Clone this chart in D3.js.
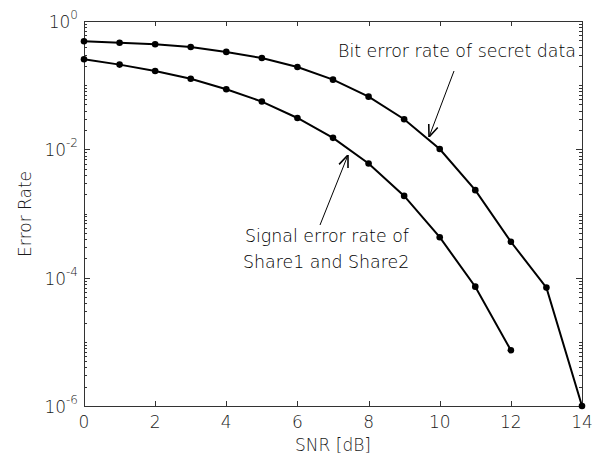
<!DOCTYPE html>
<html>
<head>
<meta charset="utf-8">
<script src="https://cdn.jsdelivr.net/npm/d3@7"></script>
<style>
  body { margin: 0; background: #fff; }
  text { font-family: "DejaVu Sans", sans-serif; font-weight: 200; fill: #1a1a1a; }
</style>
</head>
<body>
<svg id="chart" width="597" height="458"></svg>
<script>
// SNR values (dB)
const snrBit = [0, 1, 2, 3, 4, 5, 6, 7, 8, 9, 10, 11, 12, 13, 14];
const snrSignal = [0, 1, 2, 3, 4, 5, 6, 7, 8, 9, 10, 11, 12];
// error rates
const bitErrorRate = [0.483, 0.459, 0.434, 0.394, 0.33, 0.265, 0.192, 0.122, 0.0662, 0.0294, 0.0101,
                      0.00231, 0.000363, 0.00007, 0.000001];
const signalErrorRate = [0.253, 0.209, 0.166, 0.126, 0.0863, 0.0555, 0.0308, 0.0151, 0.00603, 0.00188,
                         0.000427, 0.0000724, 0.0000074];
const xTicks = [0, 2, 4, 6, 8, 10, 12, 14];
const yExponents = [0, -2, -4, -6];

const svg = d3.select('#chart');
const plotLeft = 84, plotRight = 582, plotTop = 21, plotBottom = 406;

const x = d3.scaleLinear().domain([0, 14]).range([plotLeft, plotRight]);
const y = d3.scaleLog().domain([1e-6, 1]).range([plotBottom, plotTop]);

const axisColor = '#333';
const fontSize = 17;

// frame
svg.append('rect')
    .attr('x', plotLeft + 0.5).attr('y', plotTop + 0.5)
    .attr('width', plotRight - plotLeft).attr('height', plotBottom - plotTop)
    .attr('fill', 'none').attr('stroke', axisColor).attr('stroke-width', 1);

// x ticks (inward, bottom and top)
xTicks.forEach(t => {
    const px = Math.round(x(t)) + 0.5;
    svg.append('line').attr('x1', px).attr('x2', px).attr('y1', plotBottom).attr('y2', plotBottom - 5)
        .attr('stroke', axisColor);
    svg.append('line').attr('x1', px).attr('x2', px).attr('y1', plotTop).attr('y2', plotTop + 5)
        .attr('stroke', axisColor);
    svg.append('text').attr('x', x(t)).attr('y', 428)
        .attr('text-anchor', 'middle').attr('font-size', fontSize).text(t);
});

// y ticks (log, major at labelled decades, minor elsewhere)
for (let e = -6; e < 0; e++) {
    for (let m = 1; m <= 9; m++) {
        const v = m * Math.pow(10, e);
        if (m === 1 && e % 2 === 0) continue;
        const py = Math.round(y(v)) + 0.5;
        svg.append('line').attr('x1', plotLeft).attr('x2', plotLeft + 3).attr('y1', py).attr('y2', py)
            .attr('stroke', axisColor);
        svg.append('line').attr('x1', plotRight).attr('x2', plotRight - 3).attr('y1', py).attr('y2', py)
            .attr('stroke', axisColor);
    }
}
yExponents.forEach(e => {
    const py = Math.round(y(Math.pow(10, e))) + 0.5;
    svg.append('line').attr('x1', plotLeft).attr('x2', plotLeft + 6).attr('y1', py).attr('y2', py)
        .attr('stroke', axisColor);
    svg.append('line').attr('x1', plotRight).attr('x2', plotRight - 6).attr('y1', py).attr('y2', py)
        .attr('stroke', axisColor);
    const lbl = svg.append('text').attr('x', 78).attr('y', py + 6)
        .attr('text-anchor', 'end').attr('font-size', fontSize);
    lbl.append('tspan').text('10');
    lbl.append('tspan').attr('dy', -9).attr('font-size', 12).text(e);
});

// axis titles
svg.append('text').attr('x', 333).attr('y', 451)
    .attr('text-anchor', 'middle').attr('font-size', fontSize).text('SNR [dB]');
svg.append('text').attr('transform', 'translate(31,214) rotate(-90)')
    .attr('text-anchor', 'middle').attr('font-size', fontSize).text('Error Rate');

// curves
const line = d3.line().x(d => x(d[0])).y(d => y(d[1]));
const series = [
    snrBit.map((s, i) => [s, bitErrorRate[i]]),
    snrSignal.map((s, i) => [s, signalErrorRate[i]])
];
series.forEach(pts => {
    svg.append('path').datum(pts).attr('d', line)
        .attr('fill', 'none').attr('stroke', '#000').attr('stroke-width', 2);
    svg.selectAll(null).data(pts).enter().append('circle')
        .attr('cx', d => x(d[0])).attr('cy', d => y(d[1])).attr('r', 3.3)
        .attr('fill', '#000');
});

// annotations
svg.append('defs').append('marker')
    .attr('id', 'arrow').attr('viewBox', '0 0 10 10')
    .attr('refX', 10).attr('refY', 5)
    .attr('markerWidth', 12).attr('markerHeight', 12)
    .attr('markerUnits', 'userSpaceOnUse').attr('orient', 'auto')
    .append('path').attr('d', 'M0,1 L10,5 L0,9').attr('fill', 'none')
    .attr('stroke', '#000').attr('stroke-width', 1.3);

svg.append('line').attr('x1', 454).attr('y1', 71).attr('x2', 429).attr('y2', 137)
    .attr('stroke', '#000').attr('stroke-width', 1).attr('marker-end', 'url(#arrow)');
svg.append('line').attr('x1', 320).attr('y1', 225).attr('x2', 348).attr('y2', 155)
    .attr('stroke', '#000').attr('stroke-width', 1).attr('marker-end', 'url(#arrow)');

svg.append('text').attr('x', 338).attr('y', 57).attr('font-size', 17.4)
    .style('fill', '#000').text('Bit error rate of secret data');
svg.append('text').attr('x', 245).attr('y', 242).attr('font-size', 17.4)
    .style('fill', '#000').text('Signal error rate of');
svg.append('text').attr('x', 243).attr('y', 268).attr('font-size', 17.4)
    .style('fill', '#000').text('Share1 and Share2');
</script>
</body>
</html>
